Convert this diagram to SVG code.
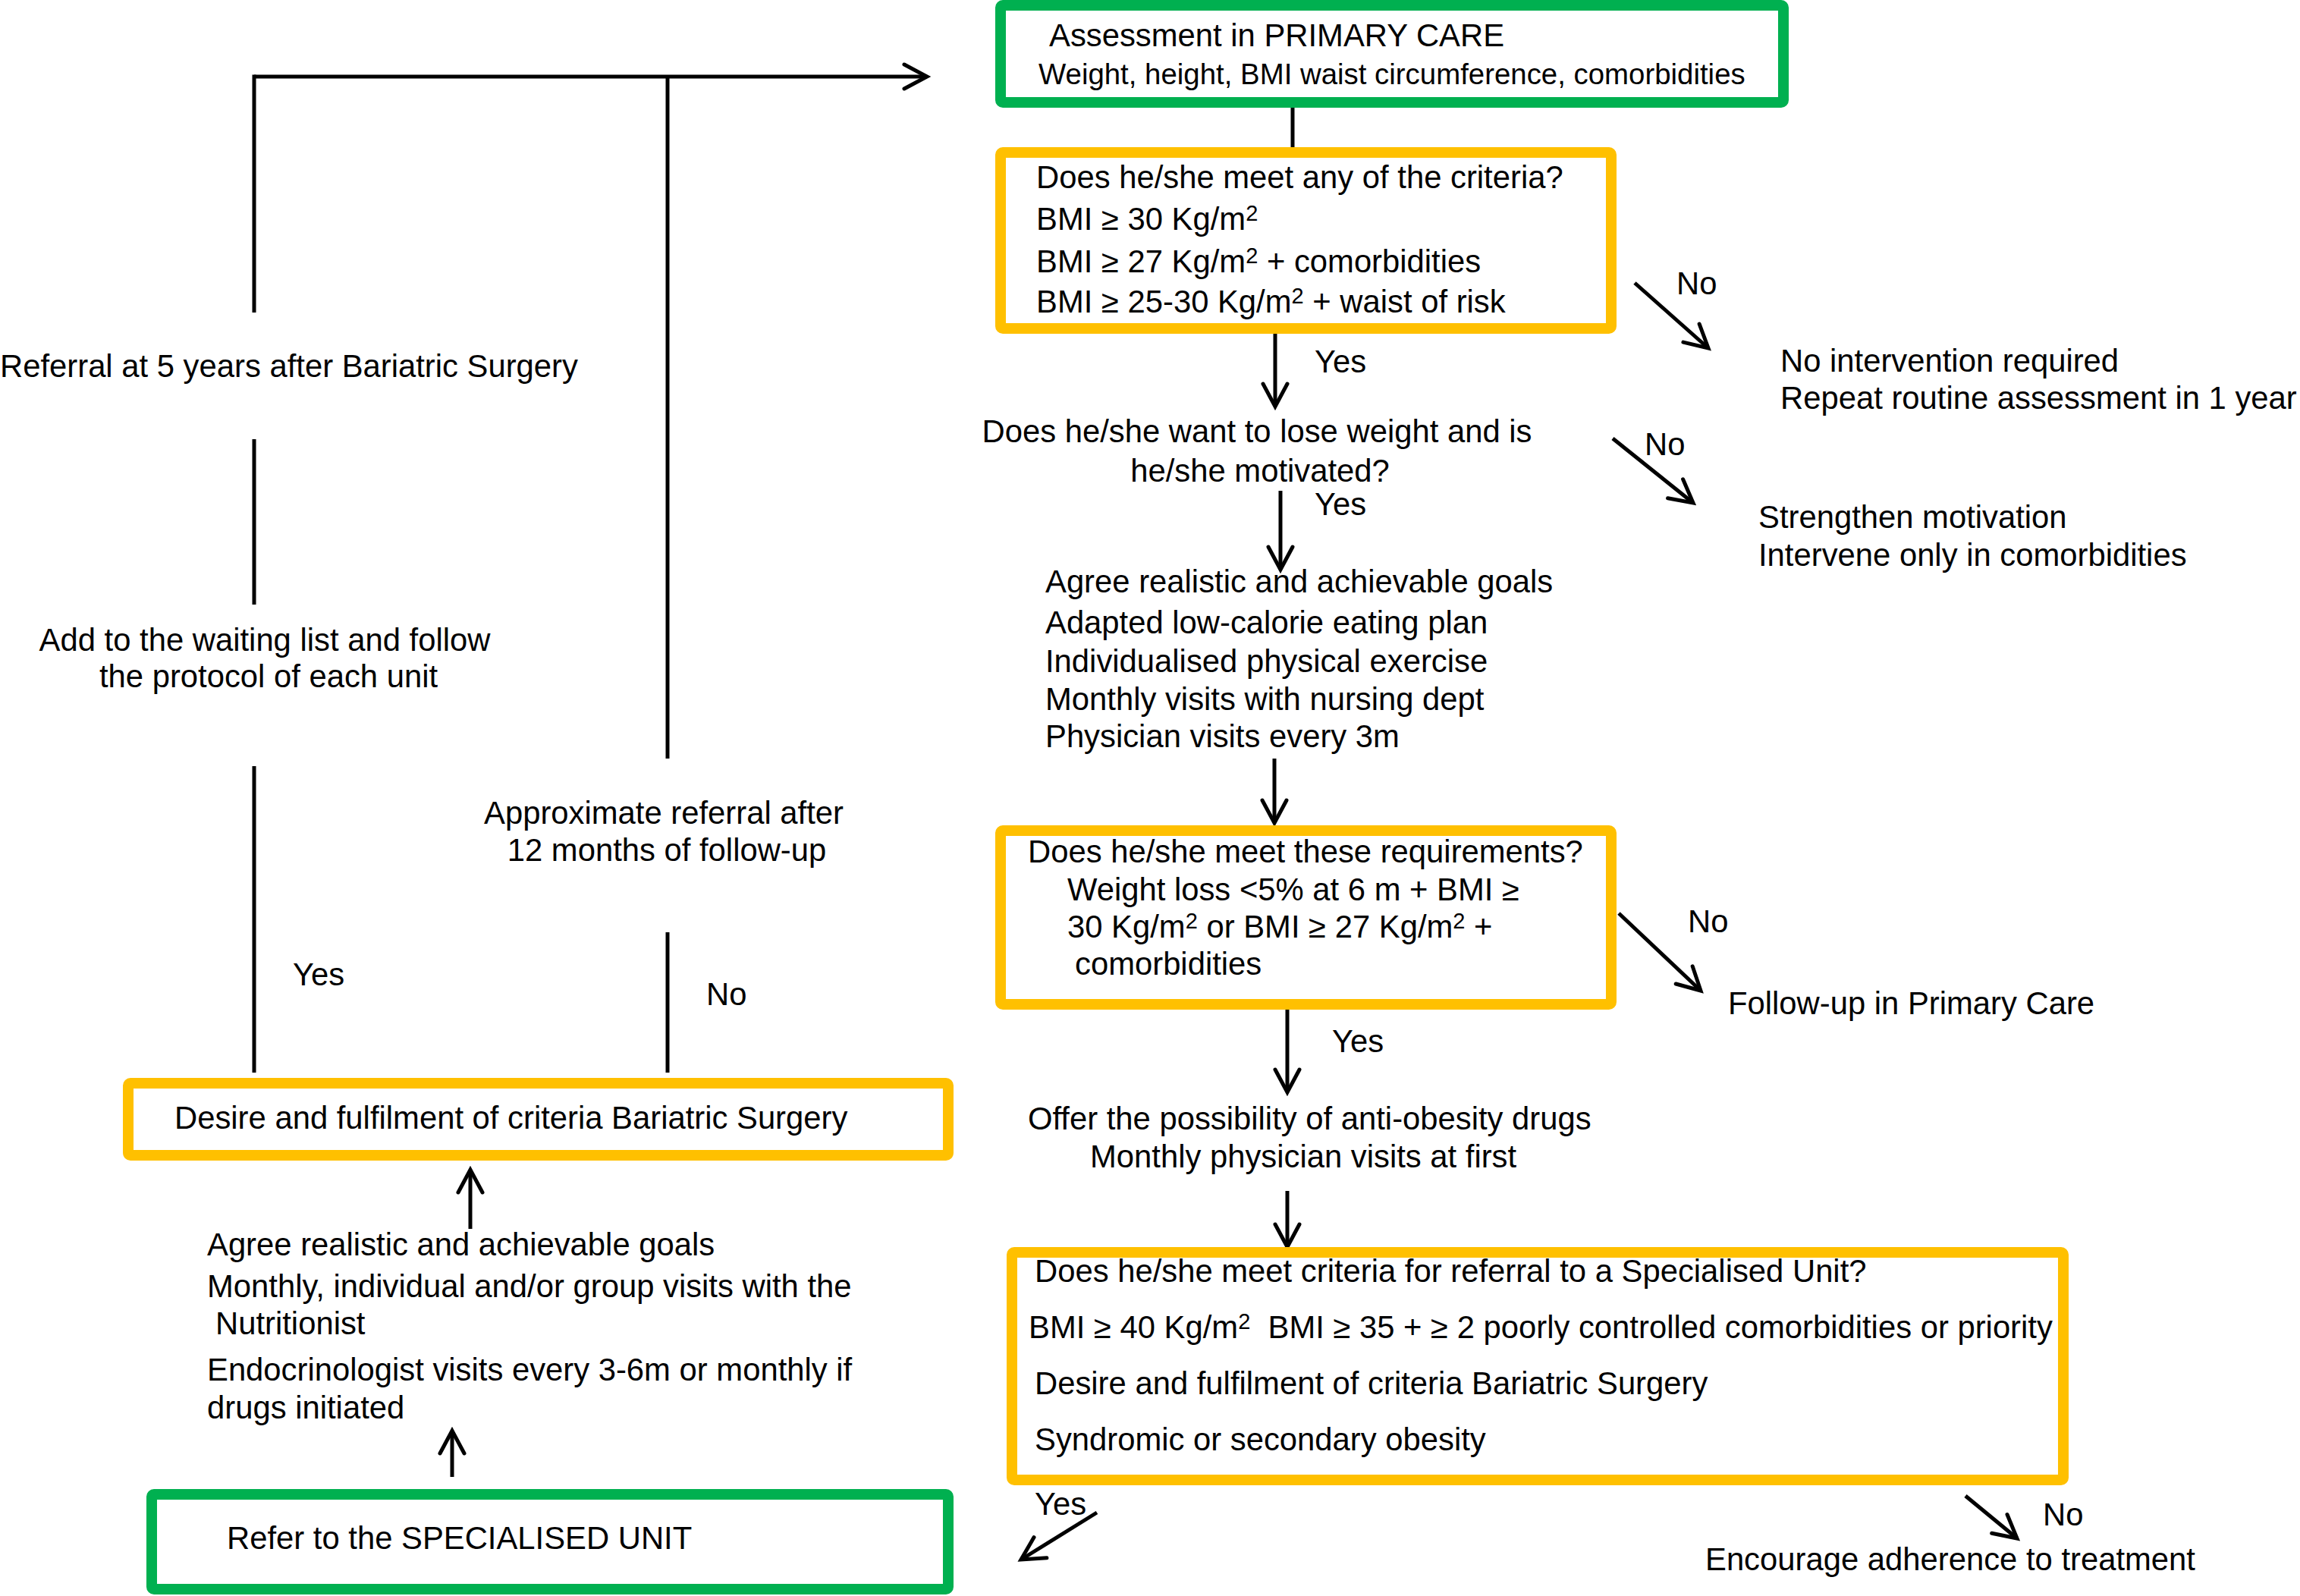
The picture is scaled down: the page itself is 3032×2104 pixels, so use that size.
<svg xmlns="http://www.w3.org/2000/svg" width="3032" height="2104" viewBox="0 0 3032 2104">
<defs>
<style>
text{font-family:"Liberation Sans",Arial,Helvetica,sans-serif;font-size:41.8px;fill:#000}
.sup{font-size:29px}
.sm{font-size:38.4px}
.g{fill:#fff;stroke:#00B050;stroke-width:14}
.y{fill:#fff;stroke:#FFC000;stroke-width:14}
.c line{stroke:#000;stroke-width:5}
.a{marker-end:url(#ah)}
</style>
<marker id="ah" markerUnits="userSpaceOnUse" markerWidth="60" markerHeight="60" viewBox="-40 -30 50 60" refX="0" refY="0" orient="auto">
<path d="M-30,-16 L0,0 L-30,16" fill="none" stroke="#000" stroke-width="5" stroke-linecap="round" stroke-linejoin="miter"/>
</marker>
</defs>
<rect width="3032" height="2104" fill="#fff"/>

<g id="connectors" class="c">
<line x1="335" y1="101" x2="1222" y2="101" class="a"/>
<line x1="335" y1="98.5" x2="335" y2="412"/>
<line x1="335" y1="579" x2="335" y2="797"/>
<line x1="335" y1="1010" x2="335" y2="1414"/>
<line x1="880" y1="101" x2="880" y2="1000"/>
<line x1="880" y1="1229" x2="880" y2="1414"/>
<line x1="1704" y1="135" x2="1704" y2="202"/>
<line x1="1681" y1="440" x2="1681" y2="536" class="a"/>
<line x1="2155" y1="373" x2="2252" y2="459" class="a"/>
<line x1="2126" y1="578" x2="2232" y2="663" class="a"/>
<line x1="1688" y1="647" x2="1688" y2="751" class="a"/>
<line x1="1680" y1="1000" x2="1680" y2="1085" class="a"/>
<line x1="2134" y1="1204" x2="2242" y2="1306" class="a"/>
<line x1="1697" y1="1331" x2="1697" y2="1440" class="a"/>
<line x1="1697" y1="1570" x2="1697" y2="1644" class="a"/>
<line x1="1446" y1="1994" x2="1346" y2="2056" class="a"/>
<line x1="2591" y1="1972" x2="2659" y2="2028" class="a"/>
<line x1="620" y1="1620" x2="620" y2="1542" class="a"/>
<line x1="596" y1="1947" x2="596" y2="1886" class="a"/>
</g>

<g id="labels">
<text x="1733" y="491">Yes</text>
<text x="2210" y="388">No</text>
<text x="2168" y="600">No</text>
<text x="1733" y="679">Yes</text>
<text x="2225" y="1229">No</text>
<text x="1756" y="1387">Yes</text>
<text x="1364" y="1997">Yes</text>
<text x="2693" y="2011">No</text>
<text x="386" y="1299">Yes</text>
<text x="931" y="1325">No</text>
</g>

<g id="assessment">
<rect class="g" x="1319" y="7" width="1032" height="128" rx="3"/>
<text x="1383" y="61">Assessment in PRIMARY CARE</text>
<text class="sm" x="1369" y="111">Weight, height, BMI waist circumference, comorbidities</text>
</g>

<g id="criteria">
<rect class="y" x="1319" y="201" width="805" height="232" rx="3"/>
<text x="1366" y="248">Does he/she meet any of the criteria?</text>
<text x="1366" y="303">BMI ≥ 30 Kg/m<tspan class="sup" dy="-12">2</tspan></text>
<text x="1366" y="359">BMI ≥ 27 Kg/m<tspan class="sup" dy="-12">2</tspan><tspan dy="12"> + comorbidities</tspan></text>
<text x="1366" y="412">BMI ≥ 25-30 Kg/m<tspan class="sup" dy="-12">2</tspan><tspan dy="12"> + waist of risk</tspan></text>
</g>

<g id="no-intervention">
<text x="2347" y="490">No intervention required</text>
<text x="2347" y="539">Repeat routine assessment in 1 year</text>
</g>

<g id="motivation">
<text x="1657" y="583" text-anchor="middle">Does he/she want to lose weight and is</text>
<text x="1661" y="635" text-anchor="middle">he/she motivated?</text>
</g>

<g id="strengthen">
<text x="2318" y="696">Strengthen motivation</text>
<text x="2318" y="746">Intervene only in comorbidities</text>
</g>

<g id="goals-primary">
<text x="1378" y="781">Agree realistic and achievable goals</text>
<text x="1378" y="835">Adapted low-calorie eating plan</text>
<text x="1378" y="886">Individualised physical exercise</text>
<text x="1378" y="936">Monthly visits with nursing dept</text>
<text x="1378" y="985">Physician visits every 3m</text>
</g>

<g id="requirements">
<rect class="y" x="1319" y="1095" width="805" height="229" rx="3"/>
<text x="1355" y="1137">Does he/she meet these requirements?</text>
<text x="1407" y="1187">Weight loss &lt;5% at 6 m + BMI ≥</text>
<text x="1407" y="1236">30 Kg/m<tspan class="sup" dy="-12">2</tspan><tspan dy="12"> or BMI ≥ 27 Kg/m</tspan><tspan class="sup" dy="-12">2</tspan><tspan dy="12"> +</tspan></text>
<text x="1417" y="1285">comorbidities</text>
</g>

<g id="follow-up">
<text x="2278" y="1337">Follow-up in Primary Care</text>
</g>

<g id="drugs">
<text x="1355" y="1489">Offer the possibility of anti-obesity drugs</text>
<text x="1437" y="1539">Monthly physician visits at first</text>
</g>

<g id="referral-criteria">
<rect class="y" x="1334" y="1651" width="1386" height="300" rx="3"/>
<text x="1364" y="1690">Does he/she meet criteria for referral to a Specialised Unit?</text>
<text x="1356" y="1764">BMI ≥ 40 Kg/m<tspan class="sup" dy="-12">2</tspan><tspan dy="12" xml:space="preserve">  BMI ≥ 35 + ≥ 2 poorly controlled comorbidities or priority</tspan></text>
<text x="1364" y="1838">Desire and fulfilment of criteria Bariatric Surgery</text>
<text x="1364" y="1912">Syndromic or secondary obesity</text>
</g>

<g id="encourage">
<text x="2248" y="2070">Encourage adherence to treatment</text>
</g>

<g id="referral-5y">
<text x="0" y="497">Referral at 5 years after Bariatric Surgery</text>
</g>

<g id="waiting-list">
<text x="349" y="858" text-anchor="middle">Add to the waiting list and follow</text>
<text x="354" y="906" text-anchor="middle">the protocol of each unit</text>
</g>

<g id="approx-referral">
<text x="875" y="1086" text-anchor="middle">Approximate referral after</text>
<text x="879" y="1135" text-anchor="middle">12 months of follow-up</text>
</g>

<g id="desire-bariatric">
<rect class="y" x="169" y="1428" width="1081" height="95" rx="3"/>
<text x="230" y="1488">Desire and fulfilment of criteria Bariatric Surgery</text>
</g>

<g id="goals-specialised">
<text x="273" y="1655">Agree realistic and achievable goals</text>
<text x="273" y="1710">Monthly, individual and/or group visits with the</text>
<text x="284" y="1759">Nutritionist</text>
<text x="273" y="1820">Endocrinologist visits every 3-6m or monthly if</text>
<text x="273" y="1870">drugs initiated</text>
</g>

<g id="specialised-unit">
<rect class="g" x="200" y="1970" width="1050" height="125" rx="3"/>
<text x="299" y="2042">Refer to the SPECIALISED UNIT</text>
</g>
</svg>
